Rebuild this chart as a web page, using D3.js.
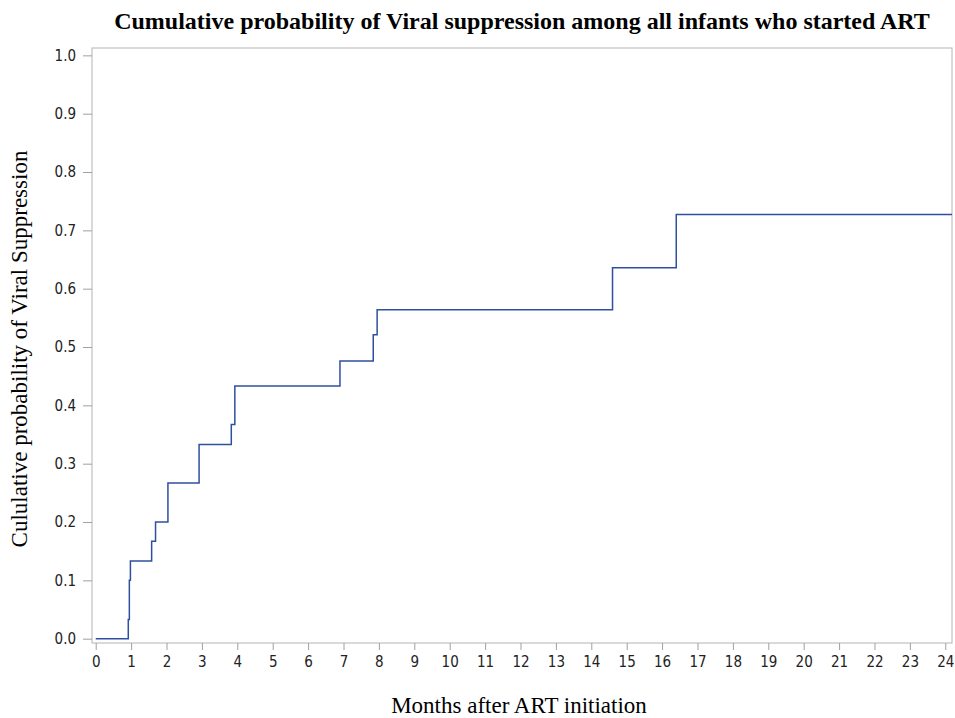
<!DOCTYPE html>
<html lang="en">
<head>
  <meta charset="UTF-8">
  <title>Cumulative probability of Viral suppression</title>
  <script src="https://cdn.jsdelivr.net/npm/d3@7"></script>
  <style>
    body { margin: 0; background: #fff; }
    text { font-family: "Liberation Serif", "DejaVu Serif", serif; }
  </style>
</head>
<body>
  <script>
    // step points: month where the curve jumps, and the new cumulative probability
    let months = [0, 0.92, 0.95, 0.98, 1.58, 1.69, 2.04, 2.92, 3.83, 3.93, 6.90, 7.84, 7.95, 14.60, 16.40, 24.19];
    let probs  = [0, 0.033, 0.100, 0.133, 0.167, 0.200, 0.267, 0.333, 0.367, 0.433, 0.476, 0.521, 0.564, 0.636, 0.727, 0.727];
    let xTicks = d3.range(0, 25);
    let yTicks = [0, 0.1, 0.2, 0.3, 0.4, 0.5, 0.6, 0.7, 0.8, 0.9, 1.0];

    let W = 955, H = 718;
    let mLeft = 92, mRight = 952, mTop = 48, mBottom = 643;

    let svg = d3.select('body').append('svg')
      .attr('width', W).attr('height', H);

    let x = d3.scaleLinear().domain([-0.105, 24.19]).range([mLeft, mRight]);
    let y = d3.scaleLinear().domain([-0.0074, 1.0126]).range([mBottom, mTop]);

    // frame
    svg.append('rect')
      .attr('x', mLeft).attr('y', mTop)
      .attr('width', mRight - mLeft).attr('height', mBottom - mTop)
      .attr('fill', 'none').attr('stroke', '#b4b4b4').attr('stroke-width', 1);

    // axes
    let xAxis = svg.append('g')
      .attr('transform', `translate(0, ${mBottom})`)
      .call(d3.axisBottom(x).tickValues(xTicks).tickSize(7).tickPadding(6).tickFormat(d3.format('d')));
    let yAxis = svg.append('g')
      .attr('transform', `translate(${mLeft}, 0)`)
      .call(d3.axisLeft(y).tickValues(yTicks).tickSize(9).tickPadding(7).tickFormat(d3.format('.1f')));

    [xAxis, yAxis].forEach(a => {
      a.select('.domain').remove();
      a.selectAll('.tick line').attr('stroke', '#a0a0a0');
      a.selectAll('.tick text')
        .attr('fill', '#222')
        .style('font-family', '"Liberation Sans Narrow", "Arial Narrow", "DejaVu Sans Condensed", sans-serif')
        .style('font-size', '15px');
    });

    // step curve
    let line = d3.line()
      .x((d, i) => x(months[i]))
      .y((d, i) => y(probs[i]))
      .curve(d3.curveStepAfter);

    svg.append('path')
      .datum(probs)
      .attr('d', line)
      .attr('fill', 'none')
      .attr('stroke', '#2f4f9f')
      .attr('stroke-width', 1.5);

    // title
    svg.append('text')
      .attr('x', 522).attr('y', 29)
      .attr('text-anchor', 'middle')
      .style('font-size', '24px').style('font-weight', 'bold')
      .text('Cumulative probability of Viral suppression among all infants who started ART');

    // axis labels
    svg.append('text')
      .attr('x', 519).attr('y', 713)
      .attr('text-anchor', 'middle')
      .style('font-size', '23px')
      .text('Months after ART initiation');

    svg.append('text')
      .attr('transform', `translate(27, 349) rotate(-90)`)
      .attr('text-anchor', 'middle')
      .style('font-size', '23px')
      .text('Cululative probability of Viral Suppression');
  </script>
</body>
</html>
